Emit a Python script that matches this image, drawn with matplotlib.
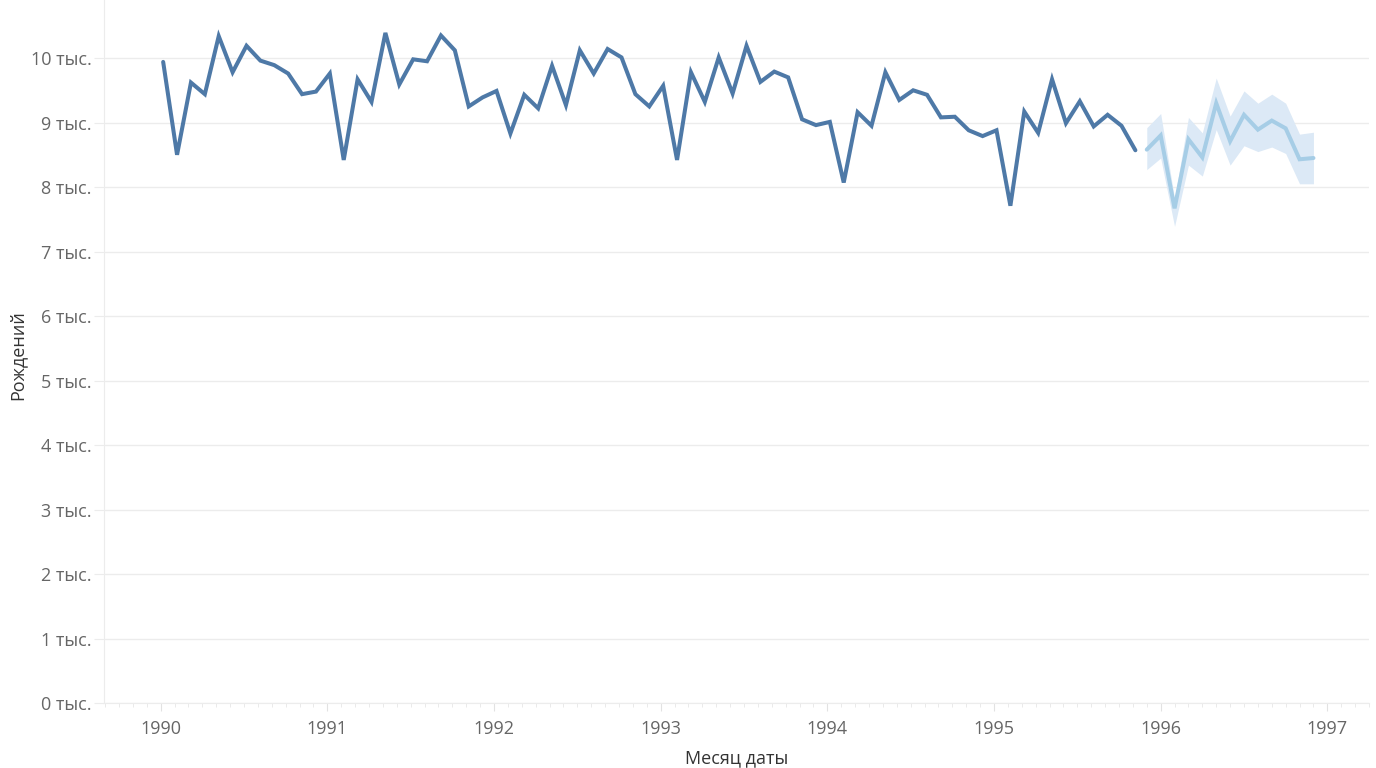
import numpy as np
import matplotlib
matplotlib.use("Agg")
import matplotlib.pyplot as plt
from matplotlib.ticker import MultipleLocator, FuncFormatter

plt.rcParams['font.family'] = ['Open Sans', 'Noto Sans', 'DejaVu Sans']

# Monthly births, Jan 1990 .. Nov 1995 (thousands)
births = [
    9.94, 8.50, 9.62, 9.44, 10.34, 9.78, 10.19, 9.96, 9.89, 9.76, 9.44, 9.48,
    9.76, 8.42, 9.67, 9.32, 10.39, 9.59, 9.98, 9.95, 10.35, 10.12, 9.25, 9.39,
    9.49, 8.83, 9.43, 9.22, 9.88, 9.27, 10.12, 9.76, 10.14, 10.01, 9.44, 9.25,
    9.57, 8.42, 9.78, 9.32, 10.01, 9.45, 10.19, 9.63, 9.79, 9.70, 9.05, 8.96,
    9.01, 8.07, 9.16, 8.95, 9.78, 9.35, 9.50, 9.43, 9.08, 9.09, 8.88, 8.79,
    8.88, 7.71, 9.17, 8.84, 9.67, 8.99, 9.33, 8.94, 9.12, 8.95, 8.57,
]
# Forecast, Dec 1995 .. Dec 1996 (thousands)
forecast = [8.58, 8.80, 7.67, 8.74, 8.46, 9.30, 8.71, 9.12, 8.89, 9.03, 8.91, 8.43, 8.45]
forecast_hi = [8.92, 9.14, 7.82, 9.08, 8.84, 9.69, 9.10, 9.49, 9.30, 9.44, 9.30, 8.82, 8.85]
forecast_lo = [8.27, 8.45, 7.39, 8.34, 8.17, 8.89, 8.34, 8.64, 8.55, 8.62, 8.52, 8.05, 8.05]

x_hist = 1990 + np.arange(len(births)) / 12 + 0.015
x_fc = 1990 + (len(births) + np.arange(len(forecast))) / 12

grid_col = '#ececec'
text_col = '#666666'

fig = plt.figure(figsize=(13.76, 7.68), dpi=100)
ax = fig.add_axes([104 / 1376, 65 / 768, 1265 / 1376, 703 / 768])

ax.fill_between(x_fc, forecast_lo, forecast_hi, color='#dce9f6', lw=0, zorder=2)
ax.plot(x_fc, forecast, color='#a6cde6', lw=2.9, solid_capstyle='round',
        solid_joinstyle='miter', zorder=3)
ax.plot(x_hist, births, color='#4e79a7', lw=2.9, solid_capstyle='round',
        solid_joinstyle='miter', zorder=4)

ax.set_xlim(1989.66, 1997.25)
ax.set_ylim(0, 10.9)

ax.yaxis.set_major_locator(MultipleLocator(1))
ax.yaxis.set_major_formatter(FuncFormatter(lambda v, p: f'{int(round(v))} тыс.'))
ax.xaxis.set_major_locator(MultipleLocator(1))
ax.xaxis.set_minor_locator(MultipleLocator(1 / 12))
ax.xaxis.set_major_formatter(FuncFormatter(lambda v, p: f'{int(round(v))}'))

ax.grid(axis='y', color=grid_col, lw=1)
ax.set_axisbelow(True)
for side in ['top', 'right']:
    ax.spines[side].set_visible(False)
ax.spines['left'].set_color(grid_col)
ax.spines['bottom'].set_color(grid_col)

ax.tick_params(axis='y', length=7, color=grid_col, labelsize=13,
               labelcolor=text_col, pad=2)
ax.tick_params(axis='x', which='major', length=6, color='#e2e2e2', labelsize=13,
               labelcolor=text_col, pad=6)
ax.tick_params(axis='x', which='minor', length=3, color='#e6e6e6')

fig.text(737 / 1376, 1 - 758 / 768, 'Месяц даты', fontsize=13, color='#333333',
         ha='center', va='center')
fig.text(18 / 1376, 1 - 355 / 768, 'Рождений', fontsize=13, color='#333333',
         ha='center', va='center', rotation=90)

fig.savefig('out.png', dpi=100)
